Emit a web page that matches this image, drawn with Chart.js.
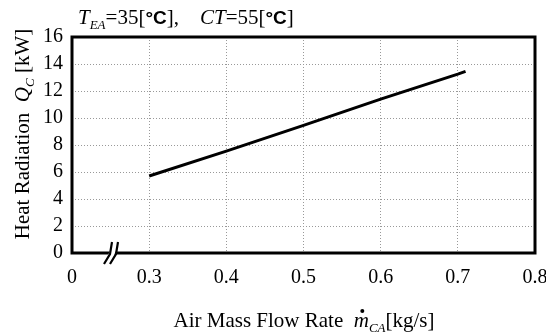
<!DOCTYPE html>
<html>
<head>
<meta charset="utf-8">
<script src="https://cdn.jsdelivr.net/npm/chart.js@4/dist/chart.umd.min.js"></script>
<style>
  html, body { margin: 0; padding: 0; background: #fff; }
  #wrap { width: 546px; height: 336px; }
</style>
</head>
<body>
<div id="wrap"><canvas id="chart" width="546" height="336"></canvas></div>
<script>
// data
const flowRate = [0.3, 0.4, 0.5, 0.6, 0.7, 0.71];
const heatRadiation = [5.7, 7.55, 9.45, 11.4, 13.25, 13.45];
const xTicks = [0.2, 0.3, 0.4, 0.5, 0.6, 0.7, 0.8];   // 0.2 slot is shown as "0" (broken axis)
const xTickLabels = ["0", "0.3", "0.4", "0.5", "0.6", "0.7", "0.8"];
const yTicks = [0, 2, 4, 6, 8, 10, 12, 14, 16];

const SERIF = "'Liberation Serif', 'Times New Roman', serif";
const SANS = "'Liberation Sans', Arial, sans-serif";
const FS = 21;

function fontOf(s) {
  return (s.italic ? "italic " : "") + (s.bold ? "bold " : "") + (s.sub ? 13 : (s.size || FS)) + "px " + (s.sans ? SANS : SERIF);
}

// draw text made of segments (italic / subscript / sans parts)
function drawRich(ctx, segs, x, y, align) {
  let total = 0;
  segs.forEach(s => {
    ctx.font = fontOf(s);
    s.w = ctx.measureText(s.t).width;
    total += s.w;
  });
  let cx = align === "center" ? x - total / 2 : x;
  segs.forEach(s => {
    ctx.font = fontOf(s);
    ctx.fillText(s.t, cx, y + (s.sub ? 5 : 0));
    if (s.dot) {
      ctx.beginPath();
      ctx.arc(cx + s.w / 2 + 1, y - 16, 2, 0, Math.PI * 2);
      ctx.fill();
    }
    cx += s.w;
  });
}

const decorPlugin = {
  id: "decor",
  afterDraw(chart) {
    const ctx = chart.ctx;
    const a = chart.chartArea;
    ctx.save();
    ctx.fillStyle = "#000";
    ctx.textBaseline = "alphabetic";

    // frame
    ctx.strokeStyle = "#000";
    ctx.lineWidth = 3;
    ctx.strokeRect(a.left, a.top, a.right - a.left, a.bottom - a.top);

    // axis break mark on the bottom axis
    const bx = 112, by = a.bottom;
    ctx.fillStyle = "#fff";
    ctx.beginPath();
    ctx.moveTo(bx - 7, by + 10);
    ctx.lineTo(bx + 1, by - 10);
    ctx.lineTo(bx + 7, by - 10);
    ctx.lineTo(bx - 1, by + 10);
    ctx.closePath();
    ctx.fill();
    ctx.lineWidth = 2.2;
    ctx.beginPath();
    ctx.moveTo(bx - 8, by + 11);
    ctx.lineTo(bx - 2, by + 1);
    ctx.lineTo(bx + 0, by - 11);
    ctx.moveTo(bx - 2, by + 11);
    ctx.lineTo(bx + 4, by + 1);
    ctx.lineTo(bx + 6, by - 11);
    ctx.stroke();

    ctx.fillStyle = "#000";
    // top title
    drawRich(ctx, [
      { t: "T", italic: true }, { t: "EA", italic: true, sub: true },
      { t: "=35[" }, { t: "°C", sans: true, bold: true, size: 19 }, { t: "],    " },
      { t: "CT", italic: true }, { t: "=55[" }, { t: "°C", sans: true, bold: true, size: 19 }, { t: "]" }
    ], 78, 24, "left");

    // x axis title
    drawRich(ctx, [
      { t: "Air Mass Flow Rate  " }, { t: "m", italic: true, dot: true },
      { t: "CA", italic: true, sub: true }, { t: "[kg/s]" }
    ], 304, 327, "center");

    // y axis title
    ctx.translate(29, 134);
    ctx.rotate(-Math.PI / 2);
    drawRich(ctx, [
      { t: "Heat Radiation  " }, { t: "Q", italic: true },
      { t: "C", italic: true, sub: true }, { t: " [kW]" }
    ], 0, 0, "center");
    ctx.restore();
  }
};

new Chart(document.getElementById("chart"), {
  type: "scatter",
  data: {
    datasets: [{
      data: flowRate.map((v, i) => ({ x: v, y: heatRadiation[i] })),
      showLine: true,
      borderColor: "#000",
      borderWidth: 3,
      pointRadius: 0,
      tension: 0
    }]
  },
  options: {
    responsive: false,
    animation: false,
    layout: { padding: { top: 37, right: 11, left: 0, bottom: 0 } },
    plugins: { legend: { display: false }, tooltip: { enabled: false } },
    scales: {
      x: {
        type: "linear",
        min: 0.2,
        max: 0.8,
        afterFit: s => { s.height = 83; s.paddingLeft = 0; s.paddingRight = 0; },
        afterBuildTicks: s => { s.ticks = xTicks.map(v => ({ value: v })); },
        ticks: {
          padding: 13,
          color: "#000",
          font: { family: SERIF, size: 20 },
          maxRotation: 0,
          callback: (v) => {
            const i = xTicks.findIndex(t => Math.abs(t - v) < 1e-6);
            return i >= 0 ? xTickLabels[i] : "";
          }
        },
        grid: { color: "#999", lineWidth: 1, drawTicks: false },
        border: { display: false, dash: [1, 2] }
      },
      y: {
        min: 0,
        max: 16,
        afterFit: s => { s.width = 72; s.paddingTop = 0; s.paddingBottom = 0; },
        afterBuildTicks: s => { s.ticks = yTicks.map(v => ({ value: v })); },
        ticks: {
          padding: 9,
          color: "#000",
          font: { family: SERIF, size: 20 }
        },
        grid: { color: "#999", lineWidth: 1, drawTicks: false },
        border: { display: false, dash: [1, 2] }
      }
    }
  },
  plugins: [decorPlugin]
});
</script>
</body>
</html>
